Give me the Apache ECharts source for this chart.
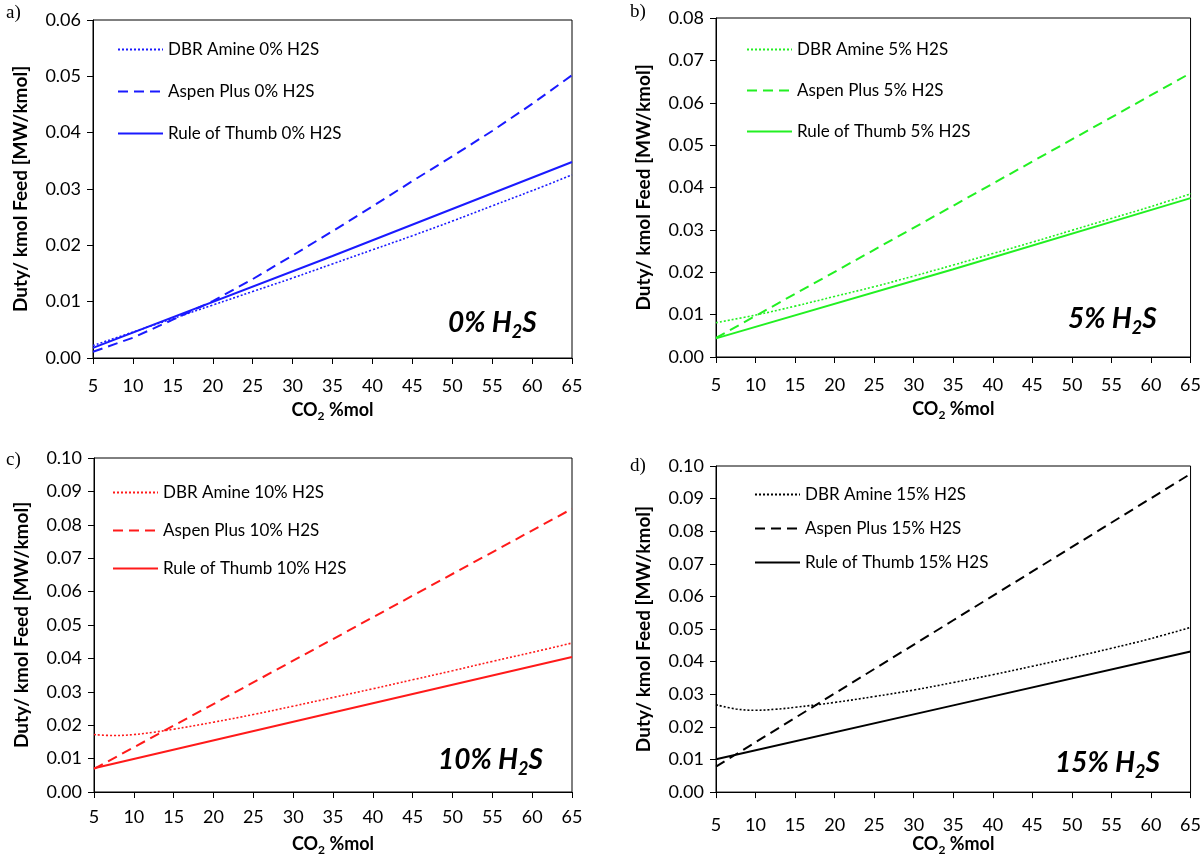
<!DOCTYPE html>
<html>

<head>
  <meta charset="utf-8" />
  <title>Duty per kmol feed vs CO2</title>
  <script src="https://cdn.jsdelivr.net/npm/echarts@6/dist/echarts.min.js"></script>
</head>

<body style="margin:0; background:#fff;">
  <div id="main" style="width: 1204px; height: 857px;"></div>
  <script type="text/javascript">

    // CO2 %mol sample points
    let xFull = [5, 10, 15, 20, 25, 30, 35, 40, 45, 50, 55, 60, 65];
    let xCurve = [5, 7.5, 10, 12.5, 15, 20, 25, 30, 35, 40, 45, 50, 55, 60, 65];
    let xLine = [5, 35, 65];

    // a) 0% H2S
    let dbr0 = [0.0022, 0.0046, 0.0070, 0.0094, 0.0118, 0.0142, 0.0167, 0.0192, 0.0217, 0.0243, 0.0270, 0.0297, 0.0325];
    let aspen0 = [0.0011, 0.0036, 0.0068, 0.0101, 0.0140, 0.0182, 0.0225, 0.0269, 0.0314, 0.0358, 0.0403, 0.0451, 0.0502];
    let rule0 = [0.0018, 0.0181, 0.0348];

    // b) 5% H2S
    let dbr5 = [0.0081, 0.0099, 0.0120, 0.0143, 0.0166, 0.0191, 0.0217, 0.0244, 0.0271, 0.0299, 0.0327, 0.0355, 0.0385];
    let aspen5 = [0.0045, 0.0357, 0.0670];
    let rule5 = [0.0044, 0.0207, 0.0375];

    // c) 10% H2S
    let dbr10 = [0.0172, 0.0169, 0.0172, 0.0179, 0.0188, 0.0209, 0.0232, 0.0257, 0.0283, 0.0309, 0.0336, 0.0363, 0.0391, 0.0418, 0.0446];
    let aspen10 = [0.0069, 0.0458, 0.0848];
    let rule10 = [0.0071, 0.0238, 0.0404];

    // d) 15% H2S
    let dbr15 = [0.0268, 0.0255, 0.0251, 0.0254, 0.0260, 0.0275, 0.0293, 0.0313, 0.0336, 0.0360, 0.0386, 0.0413, 0.0441, 0.0471, 0.0505];
    let aspen15 = [0.0078, 0.0527, 0.0976];
    let rule15 = [0.0101, 0.0266, 0.0431];

    let panelColors = ['#1a1aff', '#22f022', '#ff1a1a', '#000000'];
    let panelH2S = ['0%', '5%', '10%', '15%'];
    let yMax = [0.06, 0.08, 0.10, 0.10];

    function pairs(xs, ys) {
      return ys.map(function (v, i) { return [xs[i], v]; });
    }

    var font = 'Lato, "Open Sans", sans-serif';
    var chart = echarts.init(document.getElementById('main'));

    var grids = [
      { left: 93, top: 20, width: 479, height: 338 },
      { left: 716, top: 18, width: 476, height: 339 },
      { left: 94, top: 458, width: 478, height: 339 },
      { left: 716, top: 466, width: 476, height: 337 }
    ];
    var xNameGap = [40, 40, 40, 39];
    var xLabelMargin = [19, 19, 16, 24];

    var xAxes = [], yAxes = [], legends = [], series = [];
    var dataSets = [
      [pairs(xFull, dbr0), pairs(xFull, aspen0), pairs(xLine, rule0)],
      [pairs(xFull, dbr5), pairs(xLine, aspen5), pairs(xLine, rule5)],
      [pairs(xCurve, dbr10), pairs(xLine, aspen10), pairs(xLine, rule10)],
      [pairs(xCurve, dbr15), pairs(xLine, aspen15), pairs(xLine, rule15)]
    ];
    var legendPos = [
      { left: 112, top: 36 }, { left: 741, top: 36 },
      { left: 107, top: 479 }, { left: 749, top: 481 }
    ];
    var legendGap = [25, 24, 21, 17];

    for (var i = 0; i < 4; i++) {
      grids[i].show = true;
      grids[i].borderColor = '#000';
      grids[i].borderWidth = 1;
      xAxes.push({
        gridIndex: i,
        type: 'value',
        min: 5,
        max: 65,
        interval: 5,
        name: '{a|CO}{s|2}{a| %mol}',
        nameLocation: 'middle',
        nameGap: xNameGap[i],
        nameTextStyle: {
          rich: {
            a: { fontFamily: font, fontSize: 18, fontWeight: 'bold', color: '#000', lineHeight: 24, verticalAlign: 'middle' },
            s: { fontFamily: font, fontSize: 12, fontWeight: 'bold', color: '#000', lineHeight: 24, verticalAlign: 'bottom' }
          }
        },
        splitLine: { show: false },
        axisLine: { onZero: false, lineStyle: { color: '#000', width: 1 } },
        axisTick: { length: 6, lineStyle: { color: '#000' } },
        axisLabel: { color: '#000', fontFamily: font, fontSize: 18, margin: xLabelMargin[i] }
      });
      yAxes.push({
        gridIndex: i,
        type: 'value',
        min: 0,
        max: yMax[i],
        interval: 0.01,
        name: 'Duty/ kmol Feed [MW/kmol]',
        nameLocation: 'middle',
        nameGap: 63,
        nameTextStyle: { fontFamily: font, fontSize: 19, fontWeight: 'bold', color: '#000' },
        splitLine: { show: false },
        axisLine: { lineStyle: { color: '#000', width: 1 } },
        axisTick: { length: 6, lineStyle: { color: '#000' } },
        axisLabel: {
          color: '#000', fontFamily: font, fontSize: 18, margin: 12,
          formatter: function (v) { return v.toFixed(2); }
        }
      });

      var names = [
        'DBR Amine ' + panelH2S[i] + ' H2S',
        'Aspen Plus ' + panelH2S[i] + ' H2S',
        'Rule of Thumb ' + panelH2S[i] + ' H2S'
      ];
      var styles = [
        { type: [2, 2], width: 1.6 },
        { type: [10, 6], width: 2 },
        { type: 'solid', width: 2 }
      ];
      for (var k = 0; k < 3; k++) {
        series.push({
          name: names[k],
          type: 'line',
          xAxisIndex: i,
          yAxisIndex: i,
          data: dataSets[i][k],
          smooth: k === 0 ? 0.4 : false,
          symbol: 'none',
          color: panelColors[i],
          lineStyle: { color: panelColors[i], type: styles[k].type, width: styles[k].width },
          animation: false
        });
      }
      legends.push({
        data: names,
        orient: 'vertical',
        left: legendPos[i].left,
        top: legendPos[i].top,
        itemWidth: 45,
        itemHeight: 12,
        itemGap: legendGap[i],
        itemStyle: { opacity: 0 },
        textStyle: { fontFamily: font, fontSize: 17, color: '#000' }
      });
    }

    // panel letters and bold italic H2S captions
    var captionRich = {
      b: { fontFamily: font, fontSize: 28, fontWeight: 'bold', fontStyle: 'italic', fill: '#000', lineHeight: 36, verticalAlign: 'middle' },
      s: { fontFamily: font, fontSize: 18, fontWeight: 'bold', fontStyle: 'italic', fill: '#000', lineHeight: 36, verticalAlign: 'bottom' }
    };
    var captionPos = [[448, 309], [1068, 305], [438, 746], [1055, 749]];
    var letterPos = [[6, 4], [630, 3], [6, 451], [630, 457]];
    var letters = ['a)', 'b)', 'c)', 'd)'];
    var graphics = [];
    for (var j = 0; j < 4; j++) {
      graphics.push({
        type: 'text',
        left: captionPos[j][0],
        top: captionPos[j][1],
        style: { text: '{b|' + panelH2S[j] + ' H}{s|2}{b|S}', rich: captionRich }
      });
      graphics.push({
        type: 'text',
        left: letterPos[j][0],
        top: letterPos[j][1],
        style: { text: letters[j], fontFamily: '"Liberation Serif", serif', fontSize: 19, fill: '#000' }
      });
    }

    var option = {
      animation: false,
      grid: grids,
      xAxis: xAxes,
      yAxis: yAxes,
      legend: legends,
      series: series,
      graphic: graphics
    };

    chart.setOption(option);
  </script>
</body>

</html>
